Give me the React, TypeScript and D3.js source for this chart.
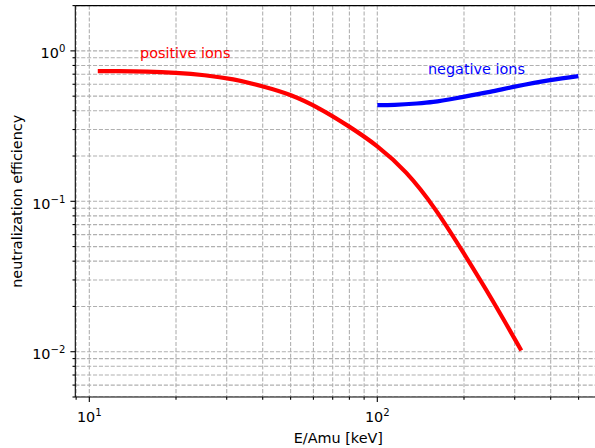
import React from "react";
import * as d3 from "d3";

const posE = [10.7, 12.6, 15.85, 19.95, 25.1, 31.6, 39.8, 50.1, 63.1, 79.4, 100, 125.9, 158.5, 199.5, 251.2, 316.2];
const posV = [0.733, 0.733, 0.728, 0.714, 0.689, 0.646, 0.582, 0.507, 0.412, 0.316, 0.232, 0.155, 0.0891, 0.0452, 0.0219, 0.0102];
const negE = [100, 115, 137, 156.5, 199, 246, 297, 398, 499];
const negV = [0.436, 0.438, 0.447, 0.458, 0.495, 0.534, 0.576, 0.639, 0.679];

const xMajor = [10, 100];
const xMajorExp = ["1", "2"];
const yMajor = [0.01, 0.1, 1];
const yMajorExp = ["\u22122", "\u22121", "0"];

const xDomain = [8.94, 600];
const yDomain = [0.005, 2];

const W = 595, H = 448;
const L = 75.3, R = 601.4, T = 5.6, B = 397;
const FONT = "DejaVu Sans";
const FS = 14.4;

function minorTicks(lo: number, hi: number) {
  const out: number[] = [];
  for (let e = Math.floor(Math.log10(lo)); e <= Math.ceil(Math.log10(hi)); e++) {
    for (let m = 1; m <= 9; m++) {
      const v = m * Math.pow(10, e);
      if (v >= lo * 0.9999 && v <= hi * 1.0001) out.push(v);
    }
  }
  return out;
}

export default function App() {
  const x = d3.scaleLog().domain(xDomain).range([L, R]);
  const y = d3.scaleLog().domain(yDomain).range([B, T]);
  const xt = minorTicks(xDomain[0], xDomain[1]);
  const yt = minorTicks(yDomain[0], yDomain[1]);
  const line = d3.line<number>().x((d, i) => x(posE[i])).y((d) => y(d)).curve(d3.curveNatural);
  const lineN = d3.line<number>().x((d, i) => x(negE[i])).y((d) => y(d)).curve(d3.curveMonotoneX);
  const isMajor = (v: number) => Math.abs(Math.log10(v) - Math.round(Math.log10(v))) < 1e-9;
  return (
    <svg width={W} height={H} style={{ display: "block", position: "absolute", left: 0, top: 0, background: "#fff" }} fontFamily={FONT}>
      <defs>
        <clipPath id="clip"><rect x={L} y={T} width={R - L} height={B - T} /></clipPath>
      </defs>
      <rect x={0} y={0} width={W} height={H} fill="#fff" />
      <g stroke="#b0b0b0" strokeWidth={1.1} strokeDasharray="4.1,1.8" clipPath="url(#clip)">
        {xt.map((v, i) => <line key={"gx" + i} x1={x(v)} x2={x(v)} y1={T} y2={B} />)}
        {yt.map((v, i) => <line key={"gy" + i} x1={L} x2={R} y1={y(v)} y2={y(v)} />)}
      </g>
      <g clipPath="url(#clip)" fill="none" strokeLinejoin="round" strokeLinecap="butt">
        <path d={line(posV) || ""} stroke="#ff0000" strokeWidth={4.2} />
        <path d={lineN(negV) || ""} stroke="#0000ff" strokeWidth={4.2} />
      </g>
      <text x={x(15)} y={y(0.9)} fill="#ff0000" fontSize={FS}>positive ions</text>
      <text x={x(150)} y={y(0.7)} fill="#0000ff" fontSize={FS}>negative ions</text>
      <g stroke="#000" strokeWidth={1.1} fill="none">
        <line x1={L} x2={L} y1={T} y2={B} />
        <line x1={R} x2={R} y1={T} y2={B} />
        <line x1={L} x2={R} y1={T} y2={T} />
        <line x1={L} x2={R} y1={B} y2={B} />
        {xt.map((v, i) => <line key={"tx" + i} x1={x(v)} x2={x(v)} y1={B} y2={B + (isMajor(v) ? 4.9 : 2.8)} />)}
        {yt.map((v, i) => <line key={"ty" + i} x1={L} x2={L - (isMajor(v) ? 4.9 : 2.8)} y1={y(v)} y2={y(v)} />)}
      </g>
      <g fontSize={FS} fill="#000">
        {xMajor.map((v, i) => (
          <text key={"lx" + i} x={x(v)} y={B + 24.5} textAnchor="middle">
            <tspan>10</tspan><tspan fontSize={FS * 0.7} dy={-6}>{xMajorExp[i]}</tspan>
          </text>
        ))}
        {yMajor.map((v, i) => (
          <text key={"ly" + i} x={L - 10} y={y(v) + 7.6} textAnchor="end">
            <tspan>10</tspan><tspan fontSize={FS * 0.7} dy={-6}>{yMajorExp[i]}</tspan>
          </text>
        ))}
      </g>
      <text x={(L + R) / 2} y={443} textAnchor="middle" fontSize={FS} fill="#000">E/Amu [keV]</text>
      <text transform={`translate(22,${(T + B) / 2}) rotate(-90)`} textAnchor="middle" fontSize={FS} fill="#000">neutralization efficiency</text>
    </svg>
  );
}
